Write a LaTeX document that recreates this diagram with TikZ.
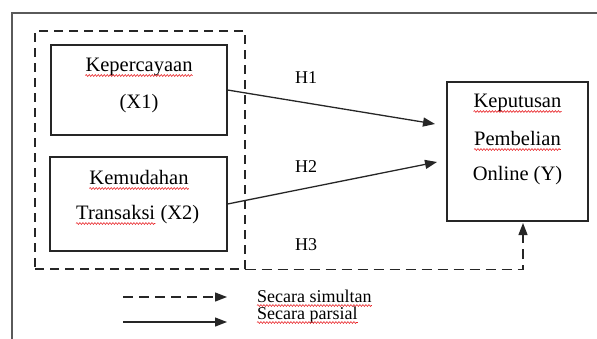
\documentclass[tikz,border=0pt]{standalone}
\usepackage{fontspec}
\setmainfont{Liberation Serif}
\usetikzlibrary{arrows.meta,decorations.pathmorphing}
\definecolor{framegray}{HTML}{5A5A5A}
\definecolor{linec}{HTML}{262626}
\definecolor{wavered}{HTML}{E8262A}
\begin{document}
\begin{tikzpicture}[x=1pt,y=-1pt,
  frame/.style={draw=framegray,line width=1.8pt},
  box/.style={draw=linec,line width=1.1pt,inner sep=0pt},
  dbox/.style={draw=linec,line width=1.2pt,inner sep=0pt,dash pattern=on 9pt off 6pt},
  txt/.style={inner sep=0pt,font=\fontsize{20.5}{24}\selectfont,anchor=base},
  lbl/.style={inner sep=0pt,font=\fontsize{18}{21}\selectfont,anchor=base west},
  arr/.style={draw=linec,line width=1.3pt,-{Triangle[length=12pt,width=9pt]}},
  darr/.style={arr,dash pattern=on 10pt off 6pt},
  wav/.style={draw=wavered,line width=0.6pt,decorate,decoration={snake,amplitude=0.9pt,segment length=3pt}}]
\useasboundingbox (0,0) rectangle (597,338);
\draw[frame] (12,340) -- (12,13) -- (599,13);
% group box
\node[dbox,minimum width=210pt,minimum height=238pt] (grp) at (140,150) {};
% boxes
\node[box,minimum width=176pt,minimum height=90pt] (x1) at (139,90) {};
\node[box,minimum width=177pt,minimum height=94pt] (x2) at (138.5,204) {};
\node[box,minimum width=141pt,minimum height=139pt] (y) at (517.5,151.5) {};
% texts
\node[txt] (t1a) at (139,71) {Kepercayaan};
\node[txt] (t1b) at (139,108) {(X1)};
\node[txt] (t2a) at (139,184) {Kemudahan};
\node[txt,anchor=base west] (t2b) at (76,219) {Transaksi};
\node[txt,anchor=base west] (t2c) at ([xshift=5pt]t2b.base east) {(X2)};
\node[txt] (y1) at (517.5,107) {Keputusan};
\node[txt] (y2) at (517.5,145) {Pembelian};
\node[txt] (y3) at (517.5,180) {Online (Y)};
% hypothesis labels
\node[lbl] (h1) at (295,83) {H1};
\node[lbl] (h2) at (295,172) {H2};
\node[lbl] (h3) at (295,250) {H3};
% arrows
\coordinate (h1e) at (435,124);
\coordinate (h2e) at (437,162);
\coordinate (h3e) at (523,223);
\draw[arr] (x1.east) -- (h1e);
\draw[arr] (x2.east) -- (h2e);
\draw[darr] (grp.south east) -- (grp.south east -| h3e) -- (h3e);
% legend
\coordinate (l1a) at (123,297);
\coordinate (l1b) at (227,297);
\coordinate (l2a) at (123,322);
\coordinate (l2b) at (227,322);
\draw[darr] (l1a) -- (l1b);
\draw[arr] (l2a) -- (l2b);
\node[lbl] (s1) at (257,302) {Secara simultan};
\node[lbl] (s2) at (257,319) {Secara parsial};
% spell-check underlines
\foreach \n in {t1a,t2a,t2b,y1,y2}{
  \draw[wav] ([yshift=-4.5pt]\n.base west) -- ([yshift=-4.5pt]\n.base east);
}
\foreach \n in {s1,s2}{
  \draw[wav] ([yshift=-3.5pt]\n.base west) -- ([yshift=-3.5pt]\n.base east);
}
\end{tikzpicture}
\end{document}
